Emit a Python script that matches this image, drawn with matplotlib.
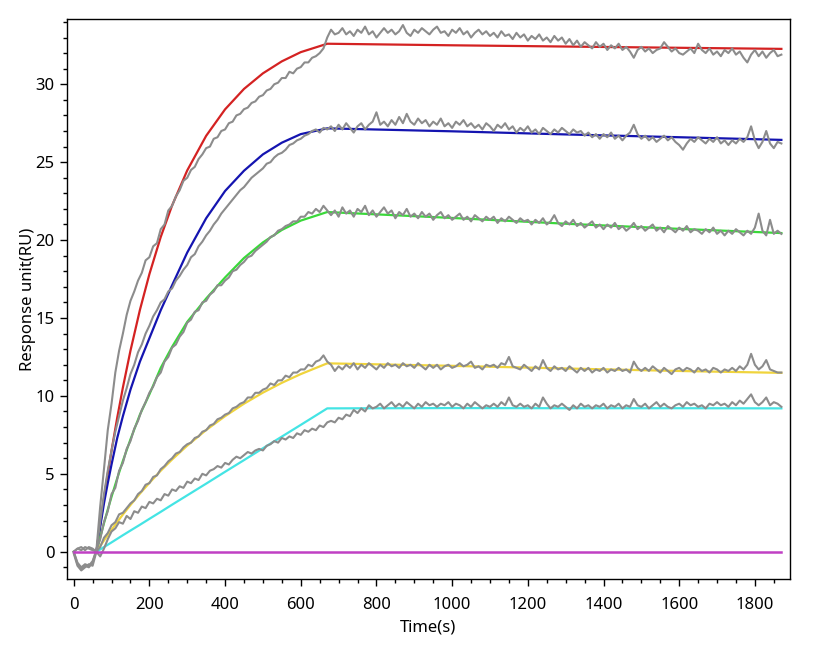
import numpy as np
import matplotlib
matplotlib.use("Agg")
import matplotlib.pyplot as plt
from matplotlib.ticker import MultipleLocator

plt.rcParams['font.family'] = ['Noto Sans', 'DejaVu Sans']

# measured sensorgrams, one sample every 10 s from t = 0 s
dt = 10
grey_red = [
    0.0, -0.8, -1.1, -0.9, -1.0, -0.7, 0.1, 2.9, 5.3, 7.8,
    9.5, 11.5, 12.9, 14.0, 15.2, 16.1, 16.7, 17.4, 17.9, 18.7,
    18.9, 19.6, 19.8, 20.7, 21.0, 21.9, 22.2, 22.8, 23.2, 23.8,
    24.0, 24.5, 24.7, 25.2, 25.5, 25.9, 26.0, 26.5, 26.6, 27.0,
    27.1, 27.5, 27.6, 28.0, 28.1, 28.4, 28.5, 28.8, 28.9, 29.2,
    29.3, 29.6, 29.7, 30.0, 30.1, 30.4, 30.4, 30.8, 30.7, 31.0,
    31.1, 31.4, 31.4, 31.7, 31.8, 32.0, 32.3, 33.0, 33.5, 33.2,
    33.3, 33.6, 33.2, 33.4, 33.1, 33.5, 33.3, 33.7, 33.2, 33.4,
    33.0, 33.3, 33.6, 33.3, 33.5, 33.2, 33.4, 33.8, 33.3, 33.1,
    33.5, 33.3, 33.6, 33.4, 33.2, 33.5, 33.7, 33.3, 33.4, 33.1,
    33.5, 33.3, 33.6, 33.2, 33.4, 33.0, 33.3, 33.5, 33.2, 33.4,
    33.1, 33.3, 33.0, 33.4, 33.1, 33.2, 32.9, 33.3, 33.0, 33.2,
    32.8, 33.1, 32.9, 33.2, 32.8, 33.0, 32.7, 33.1, 32.8, 33.0,
    32.6, 32.9, 32.5, 32.8, 32.4, 32.7, 32.5, 32.3, 32.7, 32.4,
    32.6, 32.2, 32.5, 32.3, 32.6, 32.2, 32.4, 32.1, 31.7, 32.2,
    32.4, 32.1, 32.3, 32.0, 32.2, 32.3, 32.7, 32.4, 32.1, 32.3,
    32.0, 31.9, 32.1, 32.3, 32.0, 32.6, 32.2, 32.0, 32.3, 31.9,
    32.1, 31.8, 32.2, 32.0, 32.3, 31.9, 32.1, 31.7, 31.4, 31.9,
    32.2, 31.8, 32.1, 31.7, 32.0, 32.2, 31.8, 31.9,
]
grey_blue = [
    -0.1, -0.9, -1.2, -1.0, -0.8, -0.9, 0.0, 1.9, 3.7, 5.2,
    6.5, 7.7, 8.7, 9.7, 10.5, 11.4, 12.0, 12.8, 13.3, 14.0,
    14.5, 15.1, 15.5, 16.0, 16.2, 16.7, 16.9, 17.4, 17.7, 18.1,
    18.4, 18.9, 19.1, 19.6, 19.9, 20.3, 20.6, 21.0, 21.3, 21.7,
    22.0, 22.3, 22.6, 22.9, 23.2, 23.4, 23.7, 24.0, 24.2, 24.4,
    24.6, 24.9, 25.0, 25.3, 25.5, 25.6, 25.8, 26.1, 26.2, 26.4,
    26.5, 26.7, 26.8, 27.0, 27.1, 26.9, 27.2, 27.1, 27.3, 27.0,
    27.4, 27.1, 27.5, 27.2, 26.9, 27.3, 27.5, 27.1, 27.4, 27.6,
    28.2, 27.4, 27.6, 27.3, 27.7, 27.4, 27.9, 27.5, 28.1, 27.6,
    27.4, 27.8, 27.5, 27.7, 27.3, 27.6, 27.4, 27.8, 27.3, 27.5,
    27.2, 27.6, 27.4, 27.7, 27.3, 27.5, 27.2, 27.4, 27.1, 27.5,
    27.3, 27.0, 27.4, 27.2, 27.5, 27.1, 27.3, 26.9, 27.2, 27.0,
    27.3, 26.9, 27.1, 26.8, 27.2, 27.0, 26.8, 27.1, 26.9, 27.2,
    27.0, 26.8, 27.1, 26.9, 27.0, 26.7, 26.9, 26.6, 26.8, 26.5,
    26.8, 26.6, 26.9, 26.5, 26.7, 26.4, 26.7, 26.9, 27.4, 26.8,
    26.5, 26.7, 26.4, 26.6, 26.3, 26.5, 26.7, 26.4, 26.6, 26.3,
    26.1, 25.8, 26.2, 26.5, 26.3, 26.6, 26.4, 26.2, 26.5, 26.3,
    26.6, 26.2, 26.4, 26.1, 26.4, 26.2, 26.5, 26.3, 26.6, 27.3,
    26.4, 25.9, 26.3, 27.0, 26.2, 25.9, 26.3, 26.2,
]
grey_green = [
    0.0, -0.7, -1.0, -0.8, -0.9, -0.6, 0.1, 0.8, 1.9, 2.6,
    3.7, 4.1, 5.2, 5.7, 6.6, 7.1, 7.9, 8.4, 9.1, 9.6,
    10.2, 10.6, 11.2, 11.5, 12.2, 12.5, 13.1, 13.3, 13.8, 14.1,
    14.7, 14.9, 15.4, 15.5, 16.0, 16.1, 16.5, 16.7, 17.1, 17.1,
    17.4, 17.6, 18.0, 18.1, 18.4, 18.6, 18.9, 19.0, 19.3, 19.5,
    19.7, 19.9, 20.2, 20.3, 20.6, 20.7, 20.9, 21.0, 21.2, 21.2,
    21.5, 21.5, 21.8, 21.7, 22.0, 21.8, 22.2, 21.9, 21.6, 21.9,
    21.5, 22.1, 21.7, 21.9, 21.5, 22.0, 21.8, 22.2, 21.6, 21.9,
    21.5, 21.8, 22.1, 21.7, 21.9, 21.4, 21.8, 21.6, 22.0, 21.5,
    21.7, 21.4, 21.8, 21.5, 21.7, 21.3, 21.6, 21.8, 21.4, 21.6,
    21.3, 21.5, 21.7, 21.3, 21.5, 21.2, 21.6, 21.4, 21.2, 21.5,
    21.3, 21.5, 21.1, 21.4, 21.2, 21.5, 21.3, 21.1, 21.4, 21.2,
    21.3, 21.0, 21.3, 21.1, 21.4, 21.0, 21.2, 21.6, 21.1, 20.9,
    21.2, 21.0, 21.3, 20.9, 21.1, 20.8, 21.0, 21.2, 20.8, 21.0,
    20.7, 21.0, 20.8, 21.1, 20.7, 20.9, 20.6, 20.8, 21.1, 20.7,
    20.9, 20.6, 20.8, 21.0, 20.6, 20.8, 20.5, 20.9, 20.7, 20.5,
    20.8, 20.6, 20.9, 20.5, 20.7, 20.6, 20.4, 20.7, 20.5, 20.8,
    20.4, 20.6, 20.3, 20.6, 20.4, 20.7, 20.5, 20.3, 20.6, 20.4,
    20.8, 21.7, 20.6, 20.3, 21.3, 20.4, 20.6, 20.4,
]
grey_yellow = [
    0.0, 0.2, 0.3, 0.1, 0.3, 0.2, 0.0, 0.3, 0.9, 1.2,
    1.7, 1.9, 2.4, 2.5, 2.8, 3.1, 3.3, 3.7, 3.9, 4.3,
    4.4, 4.8, 4.9, 5.3, 5.5, 5.8, 6.0, 6.3, 6.4, 6.7,
    6.9, 7.0, 7.3, 7.4, 7.7, 7.8, 8.1, 8.2, 8.5, 8.6,
    8.8, 8.9, 9.2, 9.3, 9.5, 9.6, 9.9, 9.9, 10.2, 10.2,
    10.4, 10.5, 10.8, 10.7, 11.0, 11.0, 11.3, 11.2, 11.5, 11.5,
    11.7, 11.7, 12.0, 11.9, 12.2, 12.3, 12.6, 12.2, 12.0, 11.6,
    11.9, 11.7, 12.0, 11.8, 12.1, 11.7, 12.0, 11.8, 12.1, 11.9,
    11.7, 12.0, 11.8, 12.1, 11.9, 12.0, 11.8, 12.1, 11.9, 12.0,
    11.8, 12.1, 11.9, 11.7, 12.0, 11.8, 12.0, 11.7, 11.9, 12.0,
    11.8, 11.9, 12.1, 11.9, 12.0, 12.2, 11.8, 11.9, 11.7, 12.0,
    11.9, 12.0, 11.8, 12.1, 12.0, 12.5, 11.9, 11.8, 11.7, 12.0,
    11.8, 11.6, 11.9, 11.7, 12.3, 11.8, 11.6, 11.9, 11.7, 11.8,
    11.6, 11.9, 11.7, 11.5, 11.8, 11.6, 11.8, 11.5, 11.7, 11.6,
    11.8, 11.5, 11.7, 11.6, 11.8, 11.6, 11.7, 11.5, 12.2, 11.8,
    11.6, 11.8, 11.6, 11.9, 11.7, 11.5, 11.8, 11.6, 11.4, 11.7,
    11.8, 11.6, 11.8, 11.7, 11.5, 11.8, 11.6, 11.7, 11.5, 11.8,
    11.7, 11.5, 11.7, 11.6, 11.8, 11.6, 11.9, 11.7, 12.0, 12.7,
    12.0, 11.7, 11.9, 12.3, 11.7, 11.6, 11.5, 11.5,
]
grey_cyan = [
    0.0, 0.2, 0.1, 0.3, 0.2, 0.1, 0.0, -0.3, 0.2, 0.8,
    1.3, 1.5, 1.9, 1.8, 2.3, 2.1, 2.6, 2.5, 2.9, 2.8,
    3.2, 3.1, 3.4, 3.3, 3.7, 3.6, 4.0, 3.9, 4.2, 4.1,
    4.5, 4.4, 4.7, 4.6, 5.0, 4.9, 5.2, 5.3, 5.5, 5.4,
    5.7, 5.6, 5.9, 6.1, 6.0, 6.2, 6.4, 6.3, 6.5, 6.6,
    6.5, 6.8, 6.9, 7.1, 7.0, 7.3, 7.2, 7.4, 7.3, 7.6,
    7.5, 7.8, 7.7, 7.9, 7.8, 8.1, 8.0, 8.3, 8.4, 8.3,
    8.6, 8.5, 8.8, 8.7, 9.1, 8.9, 9.2, 9.0, 9.4, 9.2,
    9.3, 9.5, 9.2, 9.4, 9.6, 9.3, 9.5, 9.3, 9.6, 9.4,
    9.2, 9.5, 9.3, 9.6, 9.4, 9.5, 9.3, 9.5, 9.4, 9.6,
    9.3, 9.5, 9.4, 9.2, 9.5, 9.3, 9.6, 9.4, 9.2, 9.4,
    9.3, 9.5, 9.3, 9.6, 9.4, 9.9, 9.4, 9.3, 9.5, 9.3,
    9.4, 9.2, 9.5, 9.3, 9.9, 9.5, 9.2, 9.4, 9.3, 9.5,
    9.3, 9.1, 9.4, 9.2, 9.5, 9.3, 9.4, 9.2, 9.4, 9.3,
    9.5, 9.2, 9.4, 9.3, 9.5, 9.2, 9.4, 9.3, 9.8, 9.4,
    9.3, 9.5, 9.2, 9.4, 9.6, 9.3, 9.5, 9.3, 9.2, 9.4,
    9.5, 9.3, 9.6, 9.4, 9.5, 9.3, 9.4, 9.2, 9.5, 9.4,
    9.6, 9.4, 9.5, 9.3, 9.6, 9.4, 9.7, 9.5, 9.8, 10.1,
    9.6, 9.4, 9.6, 9.9, 9.4, 9.6, 9.5, 9.3,
]

# fitted curves (association from 60 s, dissociation from 670 s)
fit_t = [60, 70, 80, 90, 100, 115, 130, 150, 175, 200, 230, 260, 300,
         350, 400, 450, 500, 550, 600, 670, 1000, 1300, 1600, 1870]
fit_red = [0, 1.76, 3.42, 5.0, 6.49, 8.6, 10.54, 12.9, 15.52, 17.81, 20.2,
           22.22, 24.47, 26.69, 28.39, 29.7, 30.7, 31.47, 32.06, 32.6,
           32.5, 32.42, 32.34, 32.27]
fit_blue = [0, 1.6, 3.1, 4.4, 5.6, 7.3, 8.7, 10.4, 12.2, 13.7, 15.5, 17.1,
            19.2, 21.4, 23.15, 24.45, 25.5, 26.25, 26.8, 27.17,
            26.98, 26.78, 26.6, 26.43]
fit_green = [0, 0.93, 1.83, 2.7, 3.53, 4.71, 5.83, 7.21, 8.8, 10.1, 11.8,
             13.15, 14.75, 16.25, 17.6, 18.85, 19.85, 20.65, 21.25, 21.8,
             21.42, 21.05, 20.72, 20.45]
fit_yellow = [0, 0.37, 0.72, 1.07, 1.41, 1.91, 2.39, 3.0, 3.73, 4.42, 5.2,
              5.92, 6.81, 7.81, 8.7, 9.5, 10.21, 10.84, 11.4, 12.09,
              11.93, 11.76, 11.6, 11.48]
fit_cyan = [0, 0.15, 0.3, 0.45, 0.6, 0.83, 1.06, 1.36, 1.73, 2.11, 2.56,
            3.02, 3.62, 4.37, 5.13, 5.88, 6.64, 7.39, 8.14, 9.2,
            9.22, 9.21, 9.21, 9.2]
blank_t = [0, 1870]
blank_fit = [0, 0]

grey = '#8c8c8c'
fits = [
    (fit_red, '#d42222'),
    (fit_blue, '#1414b0'),
    (fit_green, '#3ad83a'),
    (fit_yellow, '#f0d43c'),
    (fit_cyan, '#44e4e4'),
]
measured = [grey_red, grey_blue, grey_green, grey_yellow, grey_cyan]

fig = plt.figure(figsize=(8.18, 6.51), dpi=100)
ax = fig.add_axes([0.0813, 0.1101, 0.8841, 0.8603])

for values, color in fits:
    ax.plot(fit_t, values, color=color, lw=1.6, zorder=2)

for values in measured:
    t = np.arange(len(values)) * dt
    ax.plot(t, values, color=grey, lw=1.5, zorder=3)

ax.plot(blank_t, blank_fit, color='#c040c4', lw=1.8, zorder=4)

ax.set_xlim(-19, 1892)
ax.set_ylim(-1.77, 34.17)
ax.xaxis.set_major_locator(MultipleLocator(200))
ax.xaxis.set_minor_locator(MultipleLocator(50))
ax.yaxis.set_major_locator(MultipleLocator(5))
ax.yaxis.set_minor_locator(MultipleLocator(1))
ax.tick_params(which='both', direction='out', top=False, right=False,
               labelsize=12, width=1, colors='black')
ax.tick_params(which='major', length=5)
ax.tick_params(which='minor', length=3)
ax.tick_params(axis='x', which='major', pad=7.5)
for spine in ax.spines.values():
    spine.set_linewidth(1)

ax.set_xlabel('Time(s)', fontsize=12, labelpad=5)
ax.set_ylabel('Response unit(RU)', fontsize=12, labelpad=0)

fig.savefig('out.png', dpi=100)
